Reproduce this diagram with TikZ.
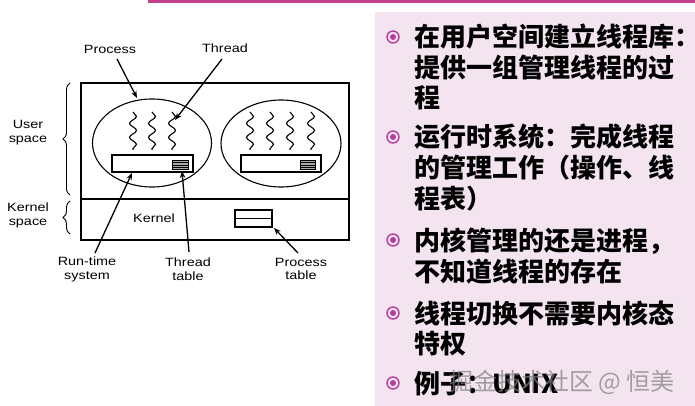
\documentclass[tikz,border=0pt]{standalone}
\usepackage{fontspec}
\setmainfont{Liberation Sans}
\newfontfamily\diag[FakeStretch=1.2]{Liberation Sans}
\newfontfamily\cjk{Noto Sans CJK SC}
\usetikzlibrary{calc,shapes.geometric,arrows.meta,decorations.pathmorphing,decorations.pathreplacing}
\definecolor{panelcol}{RGB}{243,228,239}
\definecolor{topcol}{RGB}{196,64,140}
\definecolor{bulcol}{RGB}{186,60,160}
\definecolor{tabgray}{RGB}{170,170,170}
\tikzset{
  shapebox/.style={draw,line width=1.1pt,inner sep=0pt,outer sep=0pt},
  lbl/.style={font=\diag\fontsize{12}{13.8}\selectfont,align=center,inner sep=0pt},
  arr/.style={line width=1.3pt,-{Stealth[length=7pt,width=5.5pt]}},
  squig/.style={line width=1.1pt,decorate,decoration={snake,segment length=14pt,amplitude=3.5pt}},
  brc/.style={line width=0.9pt,decorate,decoration={brace,amplitude=7pt}},
  cjkline/.style={font=\cjk\bfseries\fontsize{26}{30.5}\selectfont,anchor=base west,inner sep=0pt},
  bul/.style={circle,draw=bulcol,line width=1.4pt,minimum size=12pt,inner sep=0pt},
  bulin/.style={circle,fill=bulcol,minimum size=6pt,inner sep=0pt}
}
\begin{document}
\begin{tikzpicture}[x=1pt,y=-1pt]
\useasboundingbox (0,0) rectangle (695,406);
\fill[white] (0,0) rectangle (695,406);
% panel and top rule
\fill[panelcol] (375,12) rectangle (695,406);
\fill[topcol] (148,0) rectangle (695,3);

% outer box
\node[shapebox,minimum width=268pt,minimum height=157pt] (outer) at (215,161.5) {};
\coordinate (divL) at (81,199);
\coordinate (divR) at (349,199);
\draw[line width=1.1pt] (divL) -- (divR);

% processes
\node[shapebox,ellipse,minimum width=119pt,minimum height=88pt] (lell) at (152,143) {};
\node[shapebox,ellipse,minimum width=120pt,minimum height=87pt] (rell) at (281,143.5) {};

% run-time boxes
\node[shapebox,minimum width=81pt,minimum height=17pt] (lrt) at (152.5,163.5) {};
\node[shapebox,minimum width=80pt,minimum height=17pt] (rrt) at (281,163.5) {};

% thread tables
\node[shapebox,line width=0.9pt,fill=tabgray,minimum width=16pt,minimum height=9pt] (ltt) at (180,165) {};
\node[shapebox,line width=0.9pt,fill=tabgray,minimum width=15pt,minimum height=9pt] (rtt) at (307.5,165) {};
\foreach \t in {ltt,rtt}{
  \foreach \f in {0.25,0.5,0.75}{
    \draw[line width=0.7pt] ($(\t.north west)!\f!(\t.south west)$) -- ($(\t.north east)!\f!(\t.south east)$);
  }
}

% threads
\foreach \x [count=\i] in {133,152,172}{
  \coordinate (lt\i a) at (\x,112);
  \coordinate (lt\i b) at (\x,150);
  \draw[squig] (lt\i a) -- (lt\i b);
}
\foreach \x [count=\i] in {250,270,290,311}{
  \coordinate (rt\i a) at (\x,112);
  \coordinate (rt\i b) at (\x,150);
  \draw[squig] (rt\i a) -- (rt\i b);
}

% process table in kernel
\node[shapebox,minimum width=37pt,minimum height=17pt] (ptab) at (253.5,218.5) {};
\draw[line width=1.1pt] (ptab.west) -- (ptab.east);

% labels
\node[lbl] (kern) at (154,218) {Kernel};
\node[lbl] (procl) at (110,49) {Process};
\node[lbl] (thrl) at (225,48) {Thread};
\node[lbl] (userl) at (28,133) {User\\space};
\node[lbl] (kernl) at (28,215.5) {Kernel\\space};
\node[lbl] (rtl) at (87,269) {Run-time\\system};
\node[lbl] (ttl) at (188,269) {Thread\\table};
\node[lbl] (ptl) at (301,269) {Process\\table};

% braces
\coordinate (ub1) at (70,195);
\coordinate (ub2) at (70,83);
\draw[brc] (ub1) -- (ub2);
\coordinate (kb1) at (70,234);
\coordinate (kb2) at (70,201);
\draw[brc] (kb1) -- (kb2);

% arrows
\coordinate (procS) at (117,59);
\coordinate (procT) at (137,98);
\draw[arr] (procS) -- (procT);
\coordinate (thrS) at (222,59);
\coordinate (thrT) at (175,120);
\draw[arr] (thrS) -- (thrT);
\coordinate (rtS) at (95,253);
\coordinate (rtT) at (132,173);
\draw[arr] (rtS) -- (rtT);
\coordinate (ttS) at (189,252);
\coordinate (ttT) at (182,171);
\draw[arr] (ttS) -- (ttT);
\coordinate (ptS) at (298,253);
\coordinate (ptT) at (274,228);
\draw[arr] (ptS) -- (ptT);

% bullets
\foreach \y [count=\i] in {37,137,240,313,383}{
  \node[bul] (bo\i) at (393,\y) {};
  \node[bulin] (bi\i) at (393,\y) {};
}

% text
\node[cjkline] (t1a) at (414,47) {在用户空间建立线程库：};
\node[cjkline] (t1b) at (414,78) {提供一组管理线程的过};
\node[cjkline] (t1c) at (414,108) {程};
\node[cjkline] (t2a) at (414,147) {运行时系统：完成线程};
\node[cjkline] (t2b) at (414,177.5) {的管理工作（操作、线};
\node[cjkline] (t2c) at (414,208) {程表）};
\node[cjkline] (t3a) at (414,250) {内核管理的还是进程，};
\node[cjkline] (t3b) at (414,281) {不知道线程的存在};
\node[cjkline] (t4a) at (414,323) {线程切换不需要内核态};
\node[cjkline] (t4b) at (414,353) {特权};
\node[cjkline] (t5a) at (414,393) {例子：UNIX};

% watermark
\node[font=\cjk\fontsize{24}{26}\selectfont,text=gray,opacity=0.7,inner sep=0pt] (wm) at (562,382) {掘金技术社区 @ 恒美};
\end{tikzpicture}
\end{document}
